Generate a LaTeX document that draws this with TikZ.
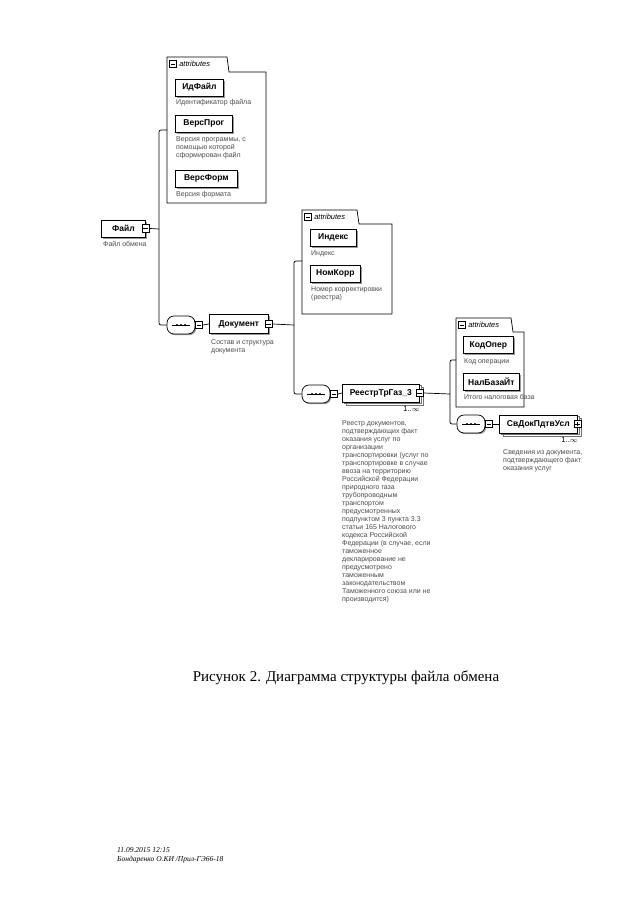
\documentclass[tikz,border=0pt]{standalone}
\usepackage{fontspec}
\setmainfont{Liberation Serif}
\setsansfont{Liberation Sans}
\usetikzlibrary{positioning, shadows}

\tikzset{
  elembox/.style={draw, fill=white, line width=0.7pt, anchor=west, minimum height=17pt, inner xsep=3pt,
    font=\sffamily\bfseries\fontsize{8.5}{9}\selectfont,
    drop shadow={shadow xshift=1.5pt, shadow yshift=-1.5pt, fill=black!40, opacity=1}},
  multibox/.style={draw, fill=white, line width=0.7pt, anchor=west, minimum height=18pt, inner xsep=3pt,
    font=\sffamily\bfseries\fontsize{8.5}{9}\selectfont,
    double copy shadow={shadow xshift=1.8pt, shadow yshift=-1.8pt, draw=black!55, fill=white}},
  seqbox/.style={draw, fill=white, rounded corners=7pt, line width=0.7pt, minimum width=28pt, minimum height=18pt,
    drop shadow={shadow xshift=1.2pt, shadow yshift=-1.2pt, fill=black!40, opacity=1}},
  expminus/.style={draw, fill=white, minimum size=7.5pt, inner sep=0pt, line width=0.6pt,
    path picture={\draw[line width=0.6pt] ([xshift=1.5pt]path picture bounding box.west) -- ([xshift=-1.5pt]path picture bounding box.east);}},
  expplus/.style={draw, fill=white, minimum size=7.5pt, inner sep=0pt, line width=0.6pt,
    path picture={\draw[line width=0.6pt] ([xshift=1.5pt]path picture bounding box.west) -- ([xshift=-1.5pt]path picture bounding box.east)
      ([yshift=1.5pt]path picture bounding box.south) -- ([yshift=-1.5pt]path picture bounding box.north);}},
  desc/.style={anchor=north west, inner sep=0pt, align=left, text=black!70, font=\sffamily\fontsize{7}{8}\selectfont},
  hdr/.style={inner sep=0pt, anchor=west, font=\sffamily\itshape\fontsize{7.5}{8}\selectfont},
  occ/.style={inner sep=0pt, anchor=north east, font=\sffamily\fontsize{7.5}{8}\selectfont},
  wire/.style={line width=0.7pt, rounded corners=2pt}
}

\begin{document}
\begin{tikzpicture}[x=1pt, y=-1pt]
\useasboundingbox[fill=white] (0,0) rectangle (640,905);

% attributes of Файл
\draw[line width=0.7pt] (167,57) -- (227,57) -- (229,72) -- (266,72) -- (266,203) -- (167,203) -- cycle;
\node[expminus] (hda) at (173,64) {};
\node[hdr, right=2pt of hda] {attributes};
\node[elembox, minimum width=48pt] (idfile) at (175,87.5) {ИдФайл};
\node[desc] at (176,99) {Идентификатор файла};
\node[elembox, minimum width=57pt] (versprog) at (175,123.5) {ВерсПрог};
\node[desc] at (176,136) {Версия программы, с\\помощью которой\\сформирован файл};
\node[elembox, minimum width=62pt] (versform) at (175,178.5) {ВерсФорм};
\node[desc] at (176,191) {Версия формата};
\coordinate (attra) at (167,130);

% Файл
\node[elembox, minimum width=44pt] (file) at (101,228.5) {Файл};
\node[expminus] (fileexp) at (file.east) {};
\node[desc] at (103,241) {Файл обмена};
\coordinate (forka) at (159,229);

% Документ
\node[seqbox] (seqa) at (181,325) {};
\node[expminus] (seqaexp) at (199,325) {};
\node[elembox, minimum width=59pt, minimum height=19pt] (doc) at (209,324) {Документ};
\node[expminus] (docexp) at (doc.east) {};
\node[desc] at (211,339) {Состав и структура\\документа};
\coordinate (forkb) at (294,325);

% attributes of Документ
\draw[line width=0.7pt] (302,210) -- (357,210) -- (359,224) -- (392,224) -- (392,314) -- (302,314) -- cycle;
\node[expminus] (hdb) at (308,217) {};
\node[hdr, right=2pt of hdb] {attributes};
\node[elembox, minimum width=46pt] (index) at (310,237.5) {Индекс};
\node[desc] at (311,250) {Индекс};
\node[elembox, minimum width=50pt] (nomkorr) at (310,273.5) {НомКорр};
\node[desc] at (311,286) {Номер корректировки\\(реестра)};
\coordinate (attrb) at (302,261);

% РеестрТрГаз_3
\node[seqbox] (seqb) at (316,394) {};
\node[expminus] (seqbexp) at (334,394) {};
\node[multibox, minimum width=77pt] (reestr) at (342,393) {РеестрТрГаз\_3};
\node[expminus] (reestrexp) at (reestr.east) {};
\node[occ] at (420,406) {1..$\infty$};
\node[desc] at (342,420) {Реестр документов,\\подтверждающих факт\\оказания услуг по\\организации\\транспортировки (услуг по\\транспортировке в случае\\ввоза на территорию\\Российской Федерации\\природного газа\\трубопроводным\\транспортом\\предусмотренных\\подпунктом 3 пункта 3.3\\статьи 165 Налогового\\кодекса Российской\\Федерации (в случае, если\\таможенное\\декларирование не\\предусмотрено\\таможенным\\законодательством\\Таможенного союза или не\\производится)};
\coordinate (forkc) at (450,394);

% attributes of РеестрТрГаз_3
\draw[line width=0.7pt] (456,318) -- (511,318) -- (513,332) -- (524,332) -- (524,407) -- (456,407) -- cycle;
\node[expminus] (hdc) at (462,325) {};
\node[hdr, right=2pt of hdc] {attributes};
\node[elembox, minimum width=50pt] (kodoper) at (463,345) {КодОпер};
\node[desc] at (464,358) {Код операции};
\node[elembox, minimum width=56pt] (nalbaza) at (463,381.5) {НалБазаЙт};
\node[desc] at (464,394) {Итого налоговая база};
\coordinate (attrc) at (456,360);

% СвДокПдтвУсл
\node[seqbox] (seqc) at (471,424) {};
\node[expminus] (seqcexp) at (489,424) {};
\node[multibox, minimum width=78pt] (svdok) at (499,424) {СвДокПдтвУсл};
\node[expplus] (svdokexp) at (svdok.east) {};
\node[occ] at (578,437) {1..$\infty$};
\node[desc] at (503,449) {Сведения из документа,\\подтверждающего факт\\оказания услуг};

% sequence marks
\foreach \s in {seqa, seqb, seqc} {
  \draw[line width=0.6pt] ([xshift=5pt]\s.west) -- ([xshift=-5pt]\s.east);
  \foreach \d in {-4, 0, 4}
    \fill ([xshift=\d pt]\s.center) circle (1.1pt);
}

% connectors
\draw[wire] (fileexp.east) -- (forka);
\draw[wire] (attra) -| (forka) |- (seqa.west);
\draw[wire] (seqa.east) -- (seqaexp.west);
\draw[wire] (seqaexp.east) -- (doc.west);
\draw[wire] (docexp.east) -- (forkb);
\draw[wire] (attrb) -| (forkb) |- (seqb.west);
\draw[wire] (seqb.east) -- (seqbexp.west);
\draw[wire] (seqbexp.east) -- (reestr.west);
\draw[wire] (reestrexp.east) -- (forkc);
\draw[wire] (attrc) -| (forkc) |- (seqc.west);
\draw[wire] (seqc.east) -- (seqcexp.west);
\draw[wire] (seqcexp.east) -- (svdok.west);

% caption and footer
\node[font=\fontsize{15}{18}\selectfont] (caption) at (346,678) {Рисунок 2. Диаграмма структуры файла обмена};
\node[anchor=north west, align=left, inner sep=0pt, font=\itshape\fontsize{7.5}{9}\selectfont] (footer) at (117,847) {11.09.2015 12:15\\Бондаренко О.КИ /Прил-ГЭ66-18};
\end{tikzpicture}
\end{document}
